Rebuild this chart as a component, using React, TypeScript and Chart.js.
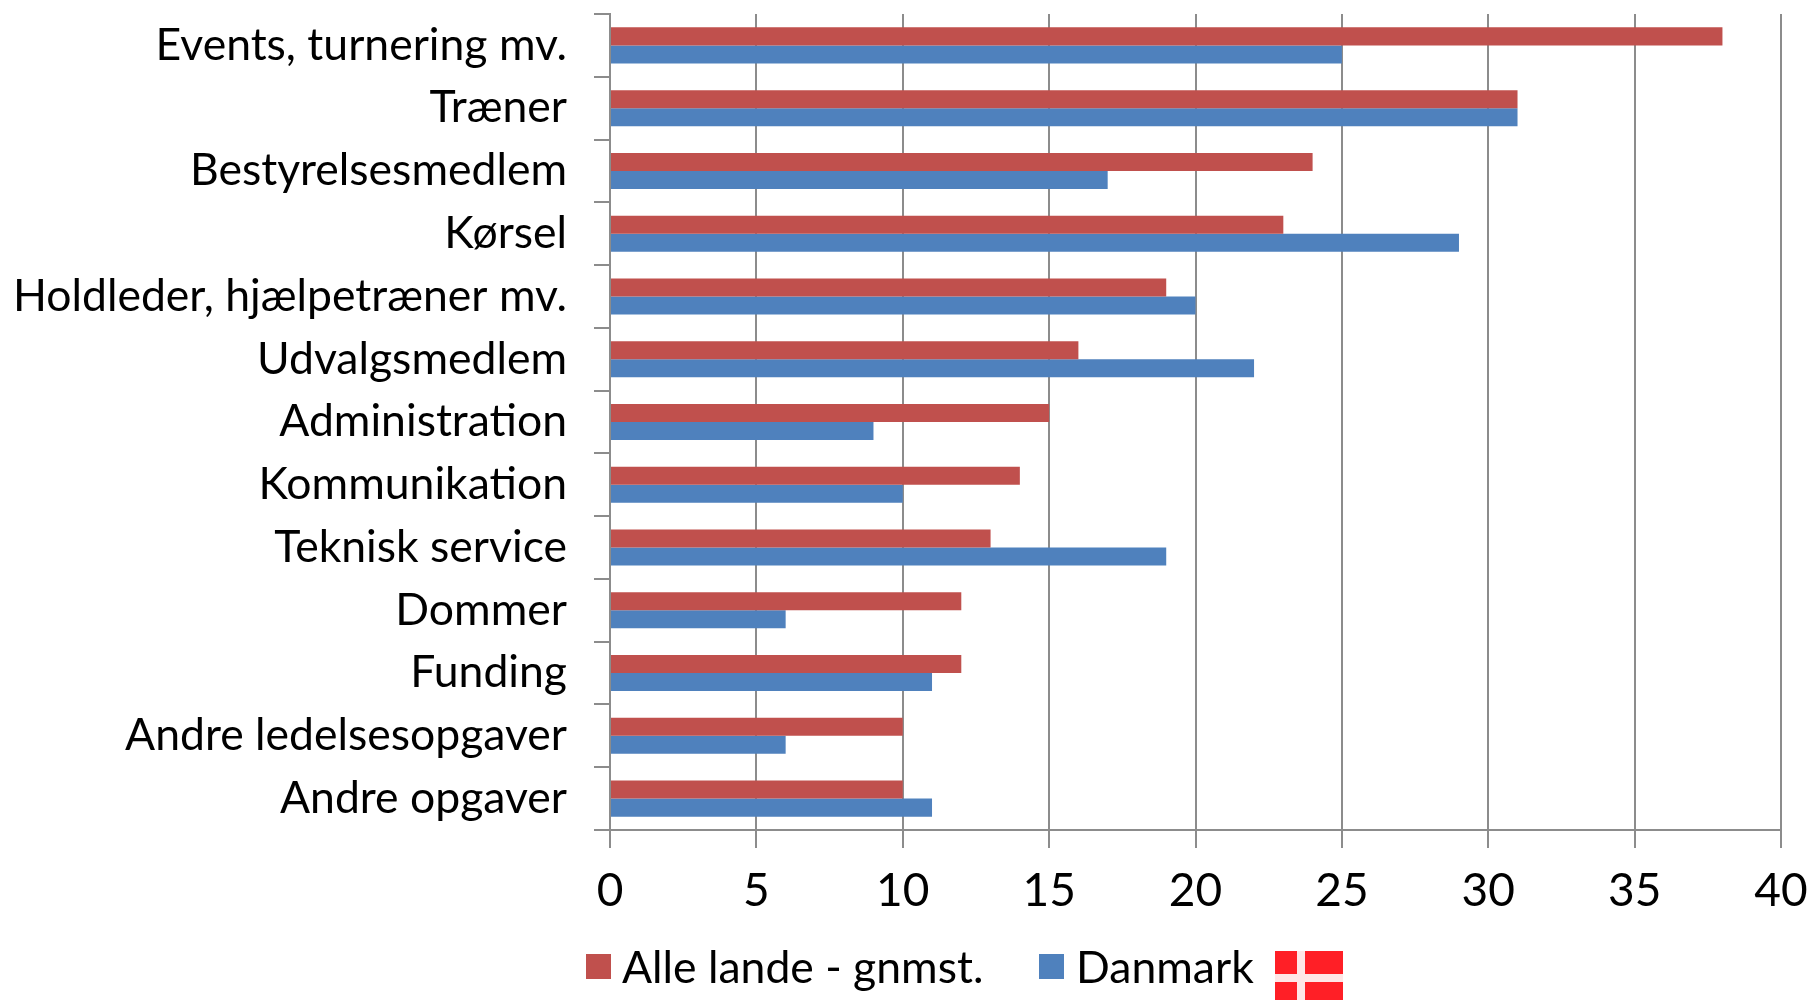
import React, { useEffect, useRef } from "react";
import { Chart, registerables } from "chart.js";

Chart.register(...registerables);

const categories = [
  "Events, turnering mv.", "Træner", "Bestyrelsesmedlem", "Kørsel",
  "Holdleder, hjælpetræner mv.", "Udvalgsmedlem", "Administration", "Kommunikation",
  "Teknisk service", "Dommer", "Funding", "Andre ledelsesopgaver", "Andre opgaver",
];
const alleLande = [38, 31, 24, 23, 19, 16, 15, 14, 13, 12, 12, 10, 10];
const danmark = [25, 31, 17, 29, 20, 22, 9, 10, 19, 6, 11, 6, 11];
const seriesNames = ["Alle lande - gnmst.", "Danmark"];
const seriesColors = ["#C0504D", "#4F81BD"];

const FONT = "Lato";
const GRID = "#8c8c8c";

export default function App() {
  const ref = useRef<HTMLCanvasElement>(null);
  useEffect(() => {
    const chart = new Chart(ref.current!, {
      type: "bar",
      data: {
        labels: categories,
        datasets: [
          { label: seriesNames[0], data: alleLande, backgroundColor: seriesColors[0] },
          { label: seriesNames[1], data: danmark, backgroundColor: seriesColors[1] },
        ],
      },
      options: {
        indexAxis: "y",
        animation: false,
        responsive: false,
        layout: { padding: { top: 14, right: 29, left: 0, bottom: 0 } },
        datasets: { bar: { categoryPercentage: 0.574, barPercentage: 1 } },
        plugins: { tooltip: { enabled: false }, legend: { display: false } },
        scales: {
          x: {
            min: 0,
            max: 40,
            afterFit(s: any) { s.height = 170; s.paddingLeft = 0; s.paddingRight = 0; },
            ticks: { stepSize: 5, color: "#000", font: { family: FONT, size: 46 }, padding: 16, maxRotation: 0 },
            grid: { color: GRID, lineWidth: 2, tickLength: 18, tickColor: GRID },
            border: { color: GRID, width: 2 },
          },
          y: {
            afterFit(s: any) { s.width = 610; s.paddingTop = 0; s.paddingBottom = 0; },
            ticks: { color: "#000", font: { family: FONT, size: 44.5 }, padding: 27, autoSkip: false },
            grid: { color: GRID, lineWidth: 2, tickLength: 16, tickColor: GRID, drawOnChartArea: false, offset: true },
            border: { color: GRID, width: 2 },
          },
        },
      },
    } as any);
    return () => chart.destroy();
  }, []);
  const legendText: React.CSSProperties = { position: "absolute", top: 939, fontFamily: FONT, fontSize: 44.5, lineHeight: "54px", color: "#000", whiteSpace: "nowrap" };
  return (
    <div style={{ position: "fixed", left: 0, top: 0, width: 1810, height: 1000, overflow: "hidden", background: "#fff" }}>
      <canvas ref={ref} width={1810} height={1000} style={{ display: "block" }} />
      <div style={{ position: "absolute", left: 586, top: 954, width: 25, height: 25, background: seriesColors[0] }} />
      <div style={{ ...legendText, left: 622 }}>{seriesNames[0]}</div>
      <div style={{ position: "absolute", left: 1039, top: 954, width: 25, height: 25, background: seriesColors[1] }} />
      <div style={{ ...legendText, left: 1076 }}>{seriesNames[1]}</div>
      <div style={{ position: "absolute", left: 1275, top: 951, width: 68, height: 49, background: "#ff1f26" }}>
        <div style={{ position: "absolute", left: 22, top: 0, width: 7.5, height: 49, background: "#ffe6e6" }} />
        <div style={{ position: "absolute", left: 0, top: 23, width: 68, height: 7.5, background: "#ffe6e6" }} />
      </div>
    </div>
  );
}
